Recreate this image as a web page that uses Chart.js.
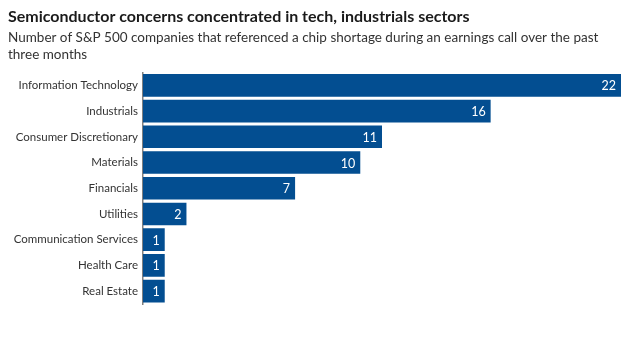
<!DOCTYPE html>
<html>
<head>
<meta charset="utf-8">
<script src="https://cdn.jsdelivr.net/npm/chart.js@4.4.1/dist/chart.umd.min.js"></script>
<style>
  html, body { margin: 0; padding: 0; background: #fff; }
  #wrap { width: 630px; height: 350px; }
</style>
</head>
<body>
<div id="wrap"><canvas id="chart"></canvas></div>
<script>
const sectors = [
  'Information Technology',
  'Industrials',
  'Consumer Discretionary',
  'Materials',
  'Financials',
  'Utilities',
  'Communication Services',
  'Health Care',
  'Real Estate'
];
const companies = [22, 16, 11, 10, 7, 2, 1, 1, 1];

const titleText = 'Semiconductor concerns concentrated in tech, industrials sectors';
const subtitleLines = [
  'Number of S&P 500 companies that referenced a chip shortage during an earnings call over the past',
  'three months'
];

const barColor = '#034e91';
const fontFamily = 'Lato, "Open Sans", sans-serif';

// white value labels just inside the end of each bar
const valueLabels = {
  id: 'valueLabels',
  afterDatasetsDraw(chart) {
    const ctx = chart.ctx;
    const meta = chart.getDatasetMeta(0);
    ctx.save();
    ctx.fillStyle = '#fff';
    ctx.font = '12.5px ' + fontFamily;
    ctx.textAlign = 'right';
    ctx.textBaseline = 'middle';
    meta.data.forEach((bar, i) => {
      ctx.fillText(String(companies[i]), bar.x - 5, bar.y + 1);
    });
    ctx.restore();
  }
};

const ctx = document.getElementById('chart').getContext('2d');
new Chart(ctx, {
  type: 'bar',
  data: {
    labels: sectors,
    datasets: [{
      data: companies,
      backgroundColor: barColor,
      borderWidth: 0,
      barPercentage: 0.88,
      categoryPercentage: 1
    }]
  },
  options: {
    indexAxis: 'y',
    responsive: true,
    maintainAspectRatio: false,
    animation: false,
    layout: { padding: { left: 8, right: 9, top: 5, bottom: 46 } },
    plugins: {
      legend: { display: false },
      tooltip: { enabled: false },
      title: {
        display: true,
        text: titleText,
        align: 'start',
        color: '#1a1a1a',
        font: { family: fontFamily, size: 16, weight: 'bold' },
        padding: { top: 2, bottom: 0 }
      },
      subtitle: {
        display: true,
        text: subtitleLines,
        align: 'start',
        color: '#333',
        font: { family: fontFamily, size: 13.5, lineHeight: 1.27 },
        padding: { top: 3, bottom: 9 }
      }
    },
    scales: {
      x: {
        display: false,
        min: 0,
        max: 22
      },
      y: {
        afterFit(scale) { scale.width = 135; },
        grid: { display: false, drawOnChartArea: false, drawTicks: false },
        border: { display: true, color: '#808080', width: 1.5 },
        ticks: {
          color: '#333',
          padding: 5,
          font: { family: fontFamily, size: 11.5 }
        }
      }
    }
  },
  plugins: [valueLabels]
});
</script>
</body>
</html>
